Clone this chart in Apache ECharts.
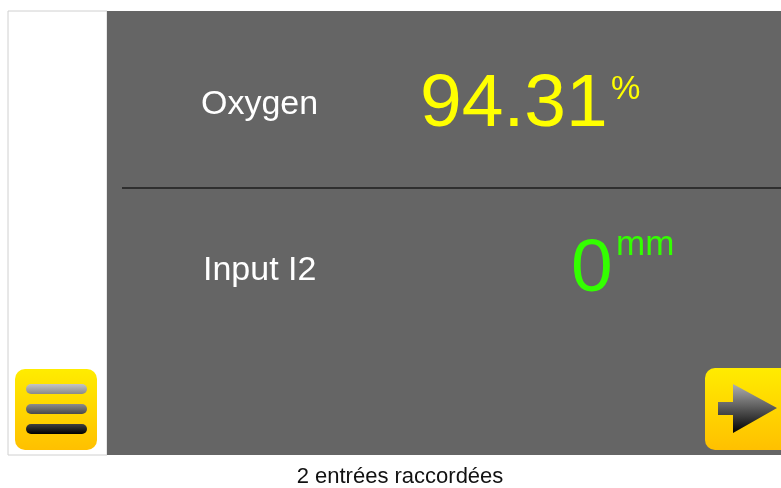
<!DOCTYPE html>
<html>
<head>
<meta charset="utf-8">
<script src="https://cdn.jsdelivr.net/npm/echarts@6/dist/echarts.min.js"></script>
<style>
  html, body { margin: 0; padding: 0; background: #fff; }
  #screen { width: 781px; height: 488px; }
</style>
</head>
<body>
<div id="screen"></div>
<script>
// readings shown on the panel
var labels = ['Oxygen', 'Input I2'];
var values = ['94.31', '0'];
var units = ['%', 'mm'];
var valueColors = ['#ffff00', '#33ff00'];
var footer = '2 entrées raccordées';

var screen = echarts.init(document.getElementById('screen'));
var font = '"Liberation Sans", Arial, sans-serif';

function grad(top, bottom) {
    return new echarts.graphic.LinearGradient(0, 0, 0, 1, [
        { offset: 0, color: top },
        { offset: 1, color: bottom }
    ]);
}

// layout of each row (middle y of texts, x of value and unit)
var rows = [
    { labelX: 201, labelY: 105, valueY: 105, unitY: 90, valueX: 420, unitX: 611, valueSize: 75, unitSize: 33 },
    { labelX: 203, labelY: 271, valueY: 270, unitY: 245, valueX: 571, unitX: 616, valueSize: 75, unitSize: 35 }
];

var elements = [
    // frame
    { type: 'rect', shape: { x: 8, y: 11, width: 99, height: 444 }, style: { fill: '#fff', stroke: '#d0d0d0', lineWidth: 1 } },
    { type: 'rect', shape: { x: 107, y: 11, width: 674, height: 444 }, style: { fill: '#656565' } },
    { type: 'line', shape: { x1: 122, y1: 188, x2: 781, y2: 188 }, style: { stroke: '#2e2e2e', lineWidth: 2 } },

    // menu button
    { type: 'rect', shape: { x: 15, y: 369, width: 82, height: 81, r: 10 }, style: { fill: grad('#ffec00', '#ffc000') } },
    { type: 'rect', shape: { x: 26, y: 384, width: 61, height: 10, r: 5 }, style: { fill: grad('#c4c4c4', '#8a8a8a') } },
    { type: 'rect', shape: { x: 26, y: 404, width: 61, height: 10, r: 5 }, style: { fill: grad('#8c8c8c', '#4a4a4a') } },
    { type: 'rect', shape: { x: 26, y: 424, width: 61, height: 10, r: 5 }, style: { fill: grad('#404040', '#000000') } },

    // next button
    { type: 'rect', shape: { x: 705, y: 368, width: 90, height: 82, r: 10 }, style: { fill: grad('#ffec00', '#ffc000') } },
    { type: 'polygon', shape: { points: [[718, 402], [733, 402], [733, 384], [777, 408], [733, 433], [733, 415], [718, 415]] },
      style: { fill: grad('#b0b0b0', '#000000') } },

    // footer
    { type: 'text', x: 400, y: 477, style: { text: footer, font: '22px ' + font, fill: '#111', align: 'center', verticalAlign: 'middle' } }
];

labels.forEach(function (label, i) {
    var r = rows[i];
    elements.push({ type: 'text', x: r.labelX, y: r.labelY,
        style: { text: label, font: '34px ' + font, fill: '#ffffff', verticalAlign: 'middle' } });
    elements.push({ type: 'text', x: r.valueX, y: r.valueY,
        style: { text: values[i], font: r.valueSize + 'px ' + font, fill: valueColors[i], verticalAlign: 'middle' } });
    elements.push({ type: 'text', x: r.unitX, y: r.unitY,
        style: { text: units[i], font: r.unitSize + 'px ' + font, fill: valueColors[i], verticalAlign: 'middle' } });
});

screen.setOption({
    animation: false,
    graphic: { elements: elements }
});
</script>
</body>
</html>
